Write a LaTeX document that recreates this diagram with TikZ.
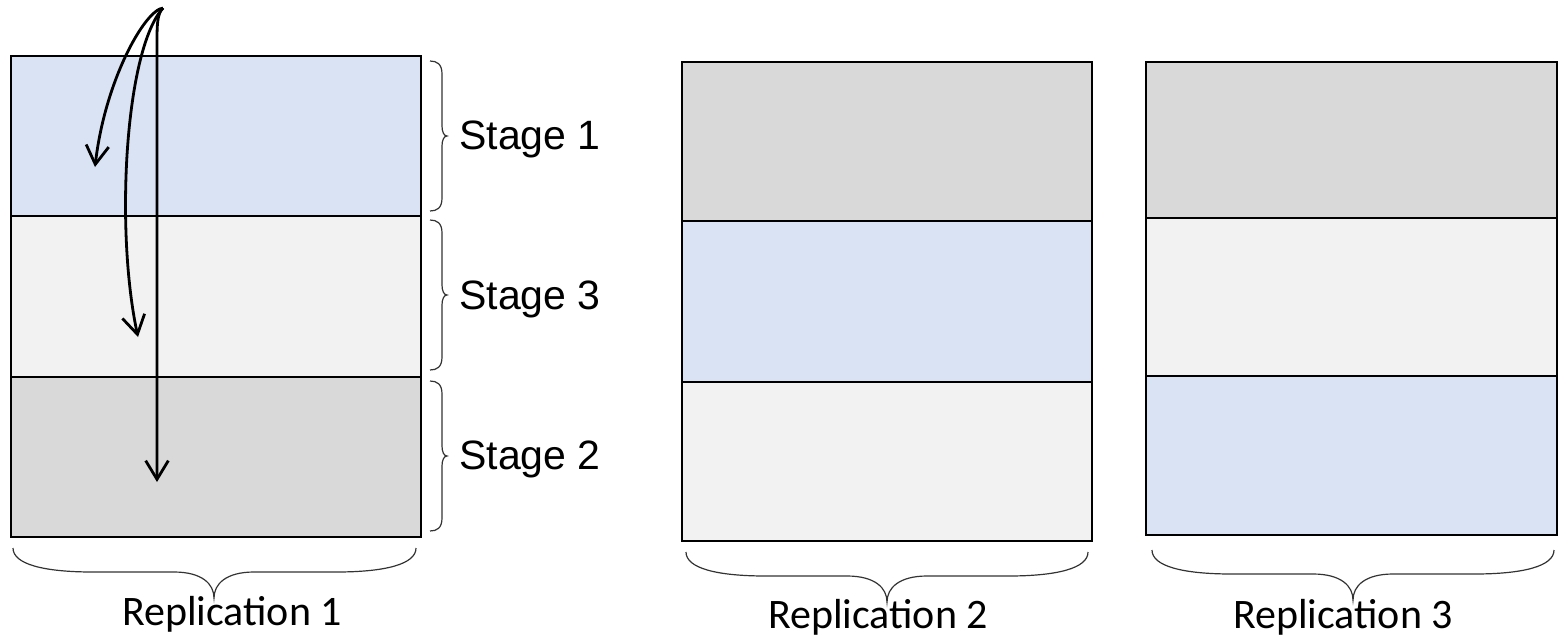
\documentclass[tikz,border=0pt]{standalone}
\usepackage{fontspec}
\setmainfont{Liberation Sans}
\newfontfamily\calib{Carlito}
\usetikzlibrary{arrows.meta}
\definecolor{bandblue}{HTML}{DAE3F3}
\definecolor{bandlight}{HTML}{F2F2F2}
\definecolor{banddark}{HTML}{D9D9D9}
\begin{document}
\begin{tikzpicture}[x=0.75pt,y=-0.75pt,
  band/.style={draw=black, line width=1.5pt},
  bracepath/.style={draw=black!80, line width=0.9pt},
  flow/.style={draw=black, line width=2.1pt, -{Straight Barb[length=14pt,width=17pt]}},
  stagelabel/.style={font=\fontsize{30.75}{36}\selectfont, anchor=base west, inner sep=0pt},
  replabel/.style={font=\calib\fontsize{31.5}{38}\selectfont, anchor=base, inner sep=0pt}
]
\path[use as bounding box] (0,0) rectangle (1560,637);

% Replication 1
\draw[band, fill=bandblue]  (11,56)  rectangle (421,216);
\draw[band, fill=bandlight] (11,216) rectangle (421,377);
\draw[band, fill=banddark]  (11,377) rectangle (421,537);

% Replication 2
\draw[band, fill=banddark]  (682,62)  rectangle (1092,221);
\draw[band, fill=bandblue]  (682,221) rectangle (1092,382);
\draw[band, fill=bandlight] (682,382) rectangle (1092,541);

% Replication 3
\draw[band, fill=banddark]  (1146,62)  rectangle (1557,218);
\draw[band, fill=bandlight] (1146,218) rectangle (1557,376);
\draw[band, fill=bandblue]  (1146,376) rectangle (1557,535);

% arrows
\coordinate (src) at (163,8);
\coordinate (tipA) at (95,167);
\coordinate (tipB) at (138,337);
\coordinate (bendC) at (157,45);
\coordinate (tipC) at (157,482);
\draw[flow] (src) .. controls (145,10) and (105,80) .. (tipA);
\draw[flow] (src) .. controls (125,50) and (115,230) .. (tipB);
\draw[flow] (src) .. controls (157,14) and (157,25) .. (bendC) -- (tipC);

% vertical braces
\foreach \t/\m/\b in {61/136/211, 220/295/370, 381/456/531}{
  \draw[bracepath] (430,\t) .. controls (437,\t) and (442,{\t+3}) .. (442,{\t+13})
    -- (442,{\m-10}) .. controls (442,{\m-4}) and (444,\m) .. (447,\m)
    .. controls (444,\m) and (442,{\m+4}) .. (442,{\m+10})
    -- (442,{\b-13}) .. controls (442,{\b-3}) and (437,\b) .. (430,\b);
}

% horizontal braces
\foreach \l/\c/\r/\a in {13/214/416/548, 686/887/1088/552, 1152/1353/1554/550}{
  \draw[bracepath] (\l,\a) .. controls (\l,{\a+16}) and ({\l+30},{\a+24}) .. ({\l+80},{\a+24})
    -- ({\c-40},{\a+24}) .. controls ({\c-12},{\a+24}) and (\c,{\a+36}) .. (\c,{\a+50})
    .. controls (\c,{\a+36}) and ({\c+12},{\a+24}) .. ({\c+40},{\a+24})
    -- ({\r-80},{\a+24}) .. controls ({\r-30},{\a+24}) and (\r,{\a+16}) .. (\r,\a);
}

% labels
\node[stagelabel] (s1) at (459,149) {Stage 1};
\node[stagelabel] (s3) at (459,309) {Stage 3};
\node[stagelabel] (s2) at (459,469) {Stage 2};
\node[replabel] (rep1) at (232,625) {Replication 1};
\node[replabel] (rep2) at (878,628) {Replication 2};
\node[replabel] (rep3) at (1343,628) {Replication 3};
\end{tikzpicture}
\end{document}
